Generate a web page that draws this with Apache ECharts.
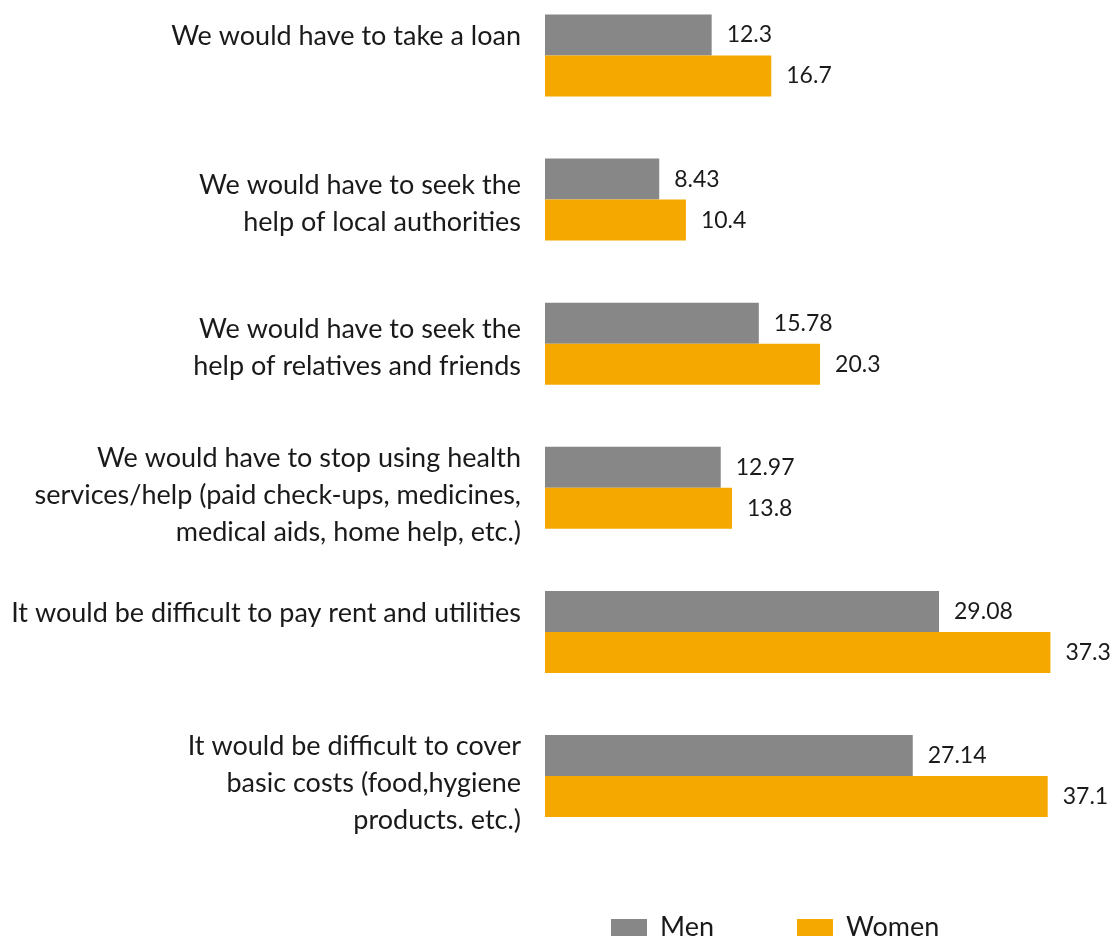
<!DOCTYPE html>
<html><head><meta charset="utf-8">
<script src="https://cdn.jsdelivr.net/npm/echarts@6/dist/echarts.min.js"></script>
<style>html,body{margin:0;padding:0;background:#fff}#c{width:1120px;height:938px}</style>
</head><body><div id="c"></div>
<script>
const categories = [
  "We would have to take a loan",
  "We would have to seek the\nhelp of local authorities",
  "We would have to seek the\nhelp of relatives and friends",
  "We would have to stop using health\nservices/help (paid check-ups, medicines,\nmedical aids, home help, etc.)",
  "It would be difficult to pay rent and utilities",
  "It would be difficult to cover\nbasic costs (food,hygiene\nproducts. etc.)"
];
const men = [12.3, 8.43, 15.78, 12.97, 29.08, 27.14];
const women = [16.7, 10.4, 20.3, 13.8, 37.3, 37.1];
const seriesNames = ["Men", "Women"];

const FONT = "Lato, 'Open Sans', sans-serif";
const TXT = '#1a1a1a';

const chart = echarts.init(document.getElementById('c'));
const lbl = {show: true, position: 'right', distance: 15, color: TXT, fontSize: 23, fontFamily: FONT};
chart.setOption({
  animation: false,
  grid: {left: 545, top: 55.5, width: 542, height: 720.5, containLabel: false, outerBoundsMode: 'none'},
  xAxis: {type: 'value', min: 0, max: 40, show: false},
  yAxis: {
    type: 'category', data: categories, inverse: true, boundaryGap: false,
    axisLine: {show: false}, axisTick: {show: false}, splitLine: {show: false},
    axisLabel: {
      margin: 24, color: TXT, fontSize: 27, fontFamily: FONT, lineHeight: 37, align: 'right',
      formatter: function (v) {
        const n = v.split('\n').length;
        if (n === 1) return v + '\n{sp37| }';
        if (n === 2) return '{sp8| }\n' + v;
        return '{sp14| }\n' + v;
      },
      rich: {
        sp37: {fontSize: 6, lineHeight: 38, height: 38},
        sp8: {fontSize: 6, lineHeight: 8, height: 8},
        sp14: {fontSize: 6, lineHeight: 14, height: 14}
      }
    }
  },
  legend: {
    left: 611, top: 914, itemWidth: 36, itemHeight: 17, itemGap: 83, padding: 0,
    icon: 'rect',
    textStyle: {color: TXT, fontSize: 27, fontFamily: FONT, padding: [0, 0, 0, 8]},
    data: seriesNames
  },
  series: [
    {name: seriesNames[0], type: 'bar', data: men, barWidth: 41, barGap: '0%', itemStyle: {color: '#878787'}, label: lbl},
    {name: seriesNames[1], type: 'bar', data: women, barWidth: 41, barGap: '0%', itemStyle: {color: '#F5A800'}, label: lbl}
  ]
});
</script></body></html>
